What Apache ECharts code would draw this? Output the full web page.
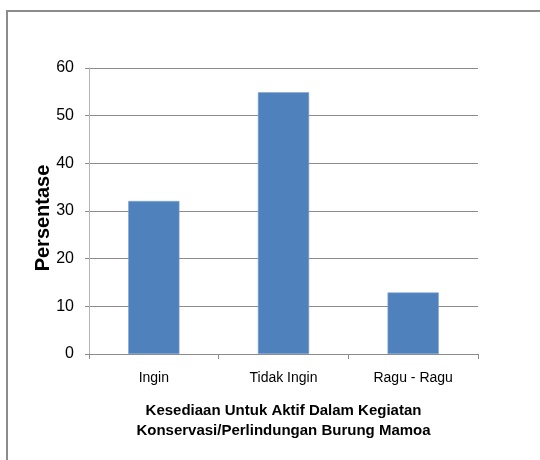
<!DOCTYPE html>
<html>
<head>
<meta charset="utf-8">
<script src="https://cdn.jsdelivr.net/npm/echarts@6/dist/echarts.min.js"></script>
<style>
  html, body { margin: 0; padding: 0; background: #fff; }
  #chart { width: 540px; height: 460px; }
</style>
</head>
<body>
<div id="chart"></div>
<script>
// Survey answers and their share of respondents (%)
const categories = ['Ingin', 'Tidak Ingin', 'Ragu - Ragu'];
const percentages = [32.1, 54.9, 12.9];
const yTicks = { min: 0, max: 60, interval: 10 };

const FONT = '"Liberation Sans", Arial, sans-serif';

const chart = echarts.init(document.getElementById('chart'), null, { renderer: 'canvas' });

chart.setOption({
  backgroundColor: '#ffffff',
  animation: false,
  textStyle: { fontFamily: FONT },
  graphic: [
    // frame lines along the top and left edges
    { type: 'line', shape: { x1: 6, y1: 11, x2: 540, y2: 11 },
      style: { stroke: '#8c8c8c', lineWidth: 2 } },
    { type: 'line', shape: { x1: 7, y1: 10, x2: 7, y2: 460 },
      style: { stroke: '#8c8c8c', lineWidth: 2 } }
  ],
  grid: { left: 89, right: 62, top: 68, bottom: 106, containLabel: false },
  xAxis: {
    type: 'category',
    data: categories,
    name: 'Kesediaan Untuk Aktif Dalam Kegiatan\nKonservasi/Perlindungan Burung Mamoa',
    nameLocation: 'middle',
    nameGap: 47,
    nameMoveOverlap: false,
    nameTextStyle: { fontFamily: FONT, fontSize: 15, fontWeight: 'bold', color: '#000', lineHeight: 20 },
    axisLine: { lineStyle: { color: '#8c8c8c', width: 1 } },
    axisTick: { show: true, alignWithLabel: false, length: 5, lineStyle: { color: '#8c8c8c' } },
    axisLabel: { fontFamily: FONT, fontSize: 14, color: '#000', margin: 17 }
  },
  yAxis: {
    type: 'value',
    min: yTicks.min,
    max: yTicks.max,
    interval: yTicks.interval,
    name: 'Persentase',
    nameLocation: 'middle',
    nameRotate: 90,
    nameGap: 36,
    nameMoveOverlap: false,
    nameTextStyle: { fontFamily: FONT, fontSize: 20, fontWeight: 'bold', color: '#000', padding: [0, 0, 0, -14] },
    axisLine: { show: true, lineStyle: { color: '#b4b4b4', width: 1 } },
    axisTick: { show: true, length: 4, lineStyle: { color: '#8c8c8c' } },
    axisLabel: { fontFamily: FONT, fontSize: 16, color: '#000', margin: 15 },
    splitLine: { show: true, lineStyle: { color: '#8c8c8c', width: 1 } }
  },
  series: [{
    type: 'bar',
    data: percentages,
    barWidth: '39.5%',
    itemStyle: { color: '#4f81bd', borderColor: '#7ea3d2', borderWidth: 0.6 }
  }]
});
</script>
</body>
</html>
